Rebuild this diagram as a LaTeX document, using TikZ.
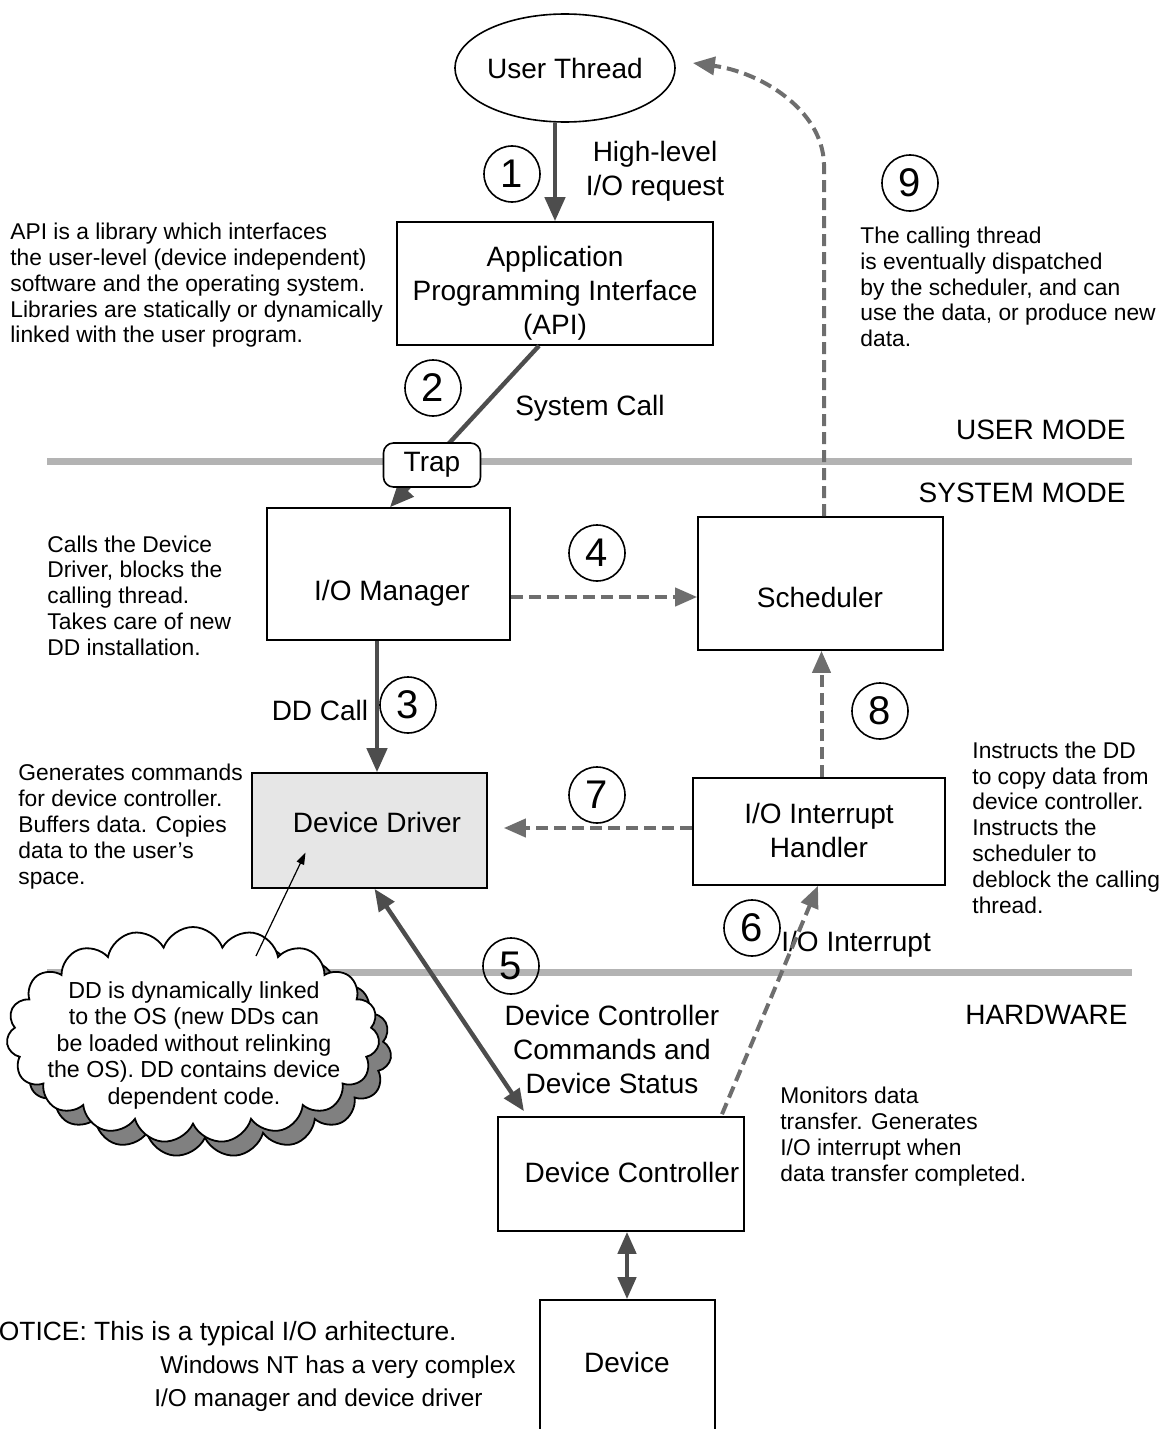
\documentclass[tikz,border=0pt]{standalone}
\usepackage{fontspec}
\setmainfont{Liberation Sans}
\usetikzlibrary{arrows.meta,shapes.geometric,shapes.symbols,calc}
\definecolor{arrgray}{HTML}{4D4D4D}
\definecolor{dashgray}{HTML}{6E6E6E}
\definecolor{sepgray}{HTML}{B3B3B3}
\definecolor{ddfill}{HTML}{E6E6E6}
\definecolor{shadowgray}{HTML}{808080}
\begin{document}
\begin{tikzpicture}[x=0.5pt,y=-0.5pt,
  mainfont/.style={font=\fontsize{14}{17}\selectfont},
  notefont/.style={font=\fontsize{11.4}{12.9}\selectfont},
  box/.style={draw, line width=0.8pt, inner sep=0pt},
  lbl/.style={inner sep=0pt, mainfont, align=center},
  note/.style={inner sep=0pt, notefont, align=left, anchor=west},
  num/.style={circle, draw, line width=0.8pt, minimum size=28pt, inner sep=0pt, font=\fontsize{20}{20}\selectfont},
  solidarrow/.style={draw=arrgray, line width=2.2pt, -{Triangle[length=12pt,width=10pt]}},
  dblarrow/.style={draw=arrgray, line width=2.2pt, {Triangle[length=11pt,width=9pt]}-{Triangle[length=11pt,width=9pt]}},
  dasharrow/.style={draw=dashgray, line width=2pt, dash pattern=on 6pt off 3pt, -{Triangle[length=11pt,width=9pt]}},
  sepline/.style={draw=sepgray, line width=3.5pt},
  cloudshape/.style={cloud, cloud puffs=19, cloud puff arc=140, aspect=1.73, minimum width=186.5pt, minimum height=108pt, draw=black, line width=0.9pt, inner sep=0pt}
]
\useasboundingbox (0,0) rectangle (1172,1429);

% mode separators
\draw[sepline] (47,461) -- (1132,461);
\draw[sepline] (47,972) -- (1132,972);
\node[lbl, anchor=east] (um) at (1126,430) {USER MODE};
\node[lbl, anchor=east] (sm) at (1126,493) {SYSTEM MODE};
\node[lbl, anchor=east] (hw) at (1128,1015) {HARDWARE};

% nodes
\node[ellipse, draw, line width=0.8pt, minimum width=110pt, minimum height=54pt, inner sep=0pt, mainfont] (ut) at (565,68) {User Thread};
\node[box, minimum width=158pt, minimum height=61.5pt] (api) at (555,283.5) {};
\node[lbl] (apit) at (555,293.5) {Application\\Programming Interface\\(API)};
\node[box, minimum width=121.5pt, minimum height=66pt] (iom) at (388.5,574) {};
\node[lbl] (iomt) at (392,593) {I/O Manager};
\node[box, minimum width=122.5pt, minimum height=66.5pt] (sched) at (820.5,583.5) {};
\node[lbl] (schedt) at (820,597) {Scheduler};
\node[box, fill=ddfill, minimum width=117.5pt, minimum height=57.5pt] (dd) at (369.5,830.5) {};
\node[lbl] (ddt) at (377,822) {Device Driver};
\node[box, minimum width=126pt, minimum height=53.5pt] (ioh) at (819,831.5) {};
\node[lbl] (ioht) at (819,830.5) {I/O Interrupt\\Handler};
\node[box, minimum width=123pt, minimum height=57pt] (dc) at (621,1174) {};
\node[lbl] (dct) at (632,1172) {Device Controller};
\node[box, minimum width=87.5pt, minimum height=72pt] (dev) at (627.5,1372) {};
\node[lbl] (devt) at (627,1362) {Device};

% numbers
\node[num] (n1) at (512,174) {1};
\node[num] (n2) at (433,388) {2};
\node[num] (n3) at (408,705) {3};
\node[num] (n4) at (597,553) {4};
\node[num] (n5) at (511,966) {5};
\node[num] (n6) at (752,928) {6};
\node[num] (n7) at (597,795) {7};
\node[num] (n8) at (880,711) {8};
\node[num] (n9) at (910,183) {9};

% labels
\node[lbl] (hl) at (655,171) {High-level\\I/O request};
\node[lbl] (sc) at (590,408) {System Call};
\node[lbl] (ddc) at (320,710) {DD Call};
\node[lbl, anchor=west] (ioi) at (781,944) {I/O Interrupt};
\node[lbl] (dcc) at (612,1049) {Device Controller\\Commands and\\Device Status};

% notes
\node[note] (napi) at (10,285.5) {API is a library which interfaces\\the user-level (device independent)\\software and the operating system.\\Libraries are statically or dynamically\\linked with the user program.};
\node[note] (nsch) at (860,287) {The calling thread\\is eventually dispatched\\by the scheduler, and can\\use the data, or produce new\\data.};
\node[note] (niom) at (47,595.5) {Calls the Device\\Driver, blocks the\\calling thread.\\Takes care of new\\DD installation.};
\node[note] (ndd) at (18,826.5) {Generates commands\\for device controller.\\Buffers data. Copies\\data to the user's\\space.};
\node[note] (nioh) at (972,827.5) {Instructs the DD\\to copy data from\\device controller.\\Instructs the\\scheduler to\\deblock the calling\\thread.};
\node[note] (ndc) at (780,1136.5) {Monitors data\\transfer. Generates\\I/O interrupt when\\data transfer completed.};

% notice
\node[inner sep=0pt, font=\fontsize{13.2}{15}\selectfont, anchor=east] (not1) at (457,1334) {NOTICE: This is a typical I/O arhitecture.};
\node[inner sep=0pt, font=\fontsize{12.2}{15}\selectfont, anchor=west] (not2) at (160,1367) {Windows NT has a very complex};
\node[inner sep=0pt, font=\fontsize{12.2}{15}\selectfont, anchor=west] (not3) at (154,1400) {I/O manager and device driver};

% connectors
\draw[solidarrow] ($(ut.south)+(-10,0)$) -- (api.north);
\draw[solidarrow] ($(api.south)+(-16,0)$) -- ($(iom.north)+(1.5,0)$);
\node[draw, rounded corners=5pt, line width=0.8pt, fill=white, minimum width=48.5pt, minimum height=22pt, inner sep=0pt, mainfont] (trap) at (432,465) {Trap};
\draw[solidarrow] ($(iom.south)+(-11.5,0)$) -- ($(dd.north)+(7.5,0)$);
\draw[dasharrow] ($(iom.east)+(0,23)$) -- ($(iom.east -| sched.west)+(0,23)$);
\draw[dasharrow] ($(ioh.north)+(2.5,0)$) -- ($(ioh.north |- sched.south)+(2.5,0)$);
\draw[dasharrow] ($(ioh.west)+(0,-3.5)$) -- ($(ioh.west -| dd.east)+(16,-3.5)$);
\draw[dasharrow] ($(sched.north)+(3.5,0)$) -- ($(sched.north)+(3.5,-352)$) .. controls ($(sched.north)+(2,-407)$) and (760,72) .. ($(ut.east)+(17,-5)$);
\draw[dasharrow] ($(dc.north)+(101,-2)$) -- ($(ioh.south)+(-1,0)$);
\draw[dblarrow] ($(dd.south)+(5,0)$) -- ($(dc.north)+(-97,-5)$);
\draw[dblarrow] ($(dc.south)+(6,0)$) -- ($(dev.north)+(-0.5,0)$);

% cloud callout
\node[cloudshape, fill=shadowgray] (cls) at (205,1049) {};
\node[cloudshape, fill=white] (cl) at (193,1035) {};
\node[inner sep=0pt, font=\fontsize{11.6}{13.25}\selectfont, align=center] (clt) at (194,1045) {DD is dynamically linked\\to the OS (new DDs can\\be loaded without relinking\\the OS). DD contains device\\dependent code.};
\draw[line width=0.6pt, -{Triangle[length=6pt,width=4pt]}] ($(cl.center)+(63,-79)$) -- ($(dd.center)+(-64,22)$);
\end{tikzpicture}
\end{document}
